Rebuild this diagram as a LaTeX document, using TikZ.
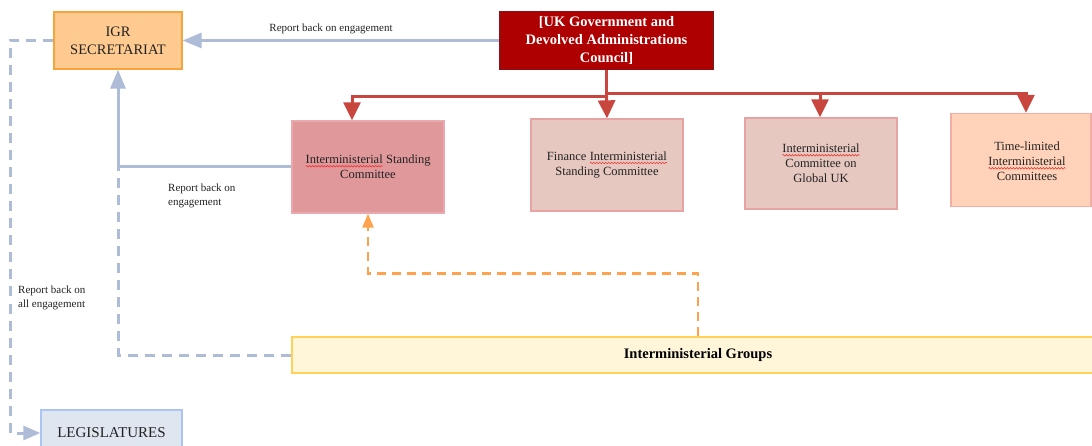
\documentclass[tikz,border=0pt]{standalone}
\usepackage{fontspec}
\setmainfont{Liberation Serif}
\usetikzlibrary{arrows.meta,decorations.pathmorphing}

\definecolor{spellred}{HTML}{E8403A}
\definecolor{linkblue}{HTML}{AEBCD8}
\definecolor{linkred}{HTML}{C8463E}
\definecolor{linkorange}{HTML}{FFA24E}
\definecolor{igrfill}{HTML}{FFCA8F}
\definecolor{igrdraw}{HTML}{F5A53C}
\definecolor{ukfill}{HTML}{AE0000}
\definecolor{ukdraw}{HTML}{8E1010}
\definecolor{iscfill}{HTML}{E0989B}
\definecolor{iscdraw}{HTML}{E9A9AE}
\definecolor{subfill}{HTML}{E6C8C0}
\definecolor{subdraw}{HTML}{E9A2A2}
\definecolor{tlfill}{HTML}{FFD2B9}
\definecolor{tldraw}{HTML}{F2AEA4}
\definecolor{igfill}{HTML}{FFF6DA}
\definecolor{igdraw}{HTML}{FFD256}
\definecolor{legfill}{HTML}{DFE6F0}
\definecolor{legdraw}{HTML}{A9C5F2}
\definecolor{txt}{HTML}{222222}

% red wavy spell-check underline under a word
\newcommand\spellw[1]{\tikz[baseline=(sw.base)]{%
  \node[inner sep=0pt, outer sep=0pt, minimum width=0pt, minimum height=0pt,
        draw=none, fill=none, align=left] (sw) {#1};
  \draw[spellred, line width=0.6pt, decorate,
        decoration={snake, amplitude=0.8pt, segment length=3pt}]
        ([yshift=-2.5pt]sw.base west) -- ([yshift=-2.5pt]sw.base east);}}

\tikzset{
  box/.style={draw, line width=1.3pt, inner sep=0pt, align=center, text=txt},
  bluelink/.style={draw=linkblue, line width=3pt},
  bluedash/.style={draw=linkblue, line width=3pt, dash pattern=on 10pt off 7pt},
  redlink/.style={draw=linkred, line width=3pt},
  orangedash/.style={draw=linkorange, line width=2.5pt, dash pattern=on 9pt off 6pt},
  bluetip/.style={-{Triangle[length=19pt,width=15pt]}},
  legtip/.style={-{Triangle[length=17pt,width=14pt]}},
  redtip/.style={-{Triangle[length=18pt,width=17pt]}},
  orangetip/.style={-{Triangle[length=14pt,width=11pt]}},
  smalllabel/.style={font=\fontsize{11}{14}\selectfont, text=txt, inner sep=0pt, align=left},
  boxtext/.style={font=\fontsize{12.5}{15}\selectfont}
}

\begin{document}
\begin{tikzpicture}[x=1pt,y=-1pt]
\useasboundingbox (0,0) rectangle (1092,446);

% boxes
\node[box, fill=igrfill, draw=igrdraw, minimum width=128pt, minimum height=57pt,
      font=\fontsize{14.5}{18}\selectfont] (igr) at (118,40.5) {IGR\\SECRETARIAT};
\node[box, fill=ukfill, draw=ukdraw, minimum width=213pt, minimum height=58pt,
      text=white, font=\bfseries\fontsize{14.5}{18}\selectfont] (uk) at (606.5,40.5)
      {[UK Government and\\Devolved Administrations\\Council]};
\node[box, fill=iscfill, draw=iscdraw, minimum width=152pt, minimum height=92pt, boxtext]
      (isc) at (368,167) {\spellw{Interministerial} Standing\\Committee};
\node[box, fill=subfill, draw=subdraw, minimum width=152pt, minimum height=92pt, boxtext]
      (fin) at (607,165) {Finance \spellw{Interministerial}\\Standing Committee};
\node[box, fill=subfill, draw=subdraw, minimum width=152pt, minimum height=91pt, boxtext]
      (glob) at (821,163.5) {\spellw{Interministerial}\\Committee on\\Global UK};
\node[box, fill=tlfill, draw=tldraw, minimum width=140pt, minimum height=93pt]
      (tl) at (1021,160) {};
\node[boxtext, text=txt, align=center, inner sep=0pt] (tltext) at (1027,161.5)
      {Time-limited\\\spellw{Interministerial}\\Committees};
\node[box, fill=igfill, draw=igdraw, minimum width=812pt, minimum height=36pt,
      font=\bfseries\fontsize{14.5}{17}\selectfont, text=black] (ig) at (698,355)
      {Interministerial Groups};
\node[box, fill=legfill, draw=legdraw, minimum width=141pt, minimum height=46pt,
      font=\fontsize{15}{17}\selectfont] (leg) at (111.5,433) {LEGISLATURES};

% reporting lines
\draw[bluelink, bluetip] (uk.west) -- (igr.east);
\draw[bluelink, bluetip] (isc.west) -| (igr.south);
\draw[bluedash] (ig.west) -| (igr.south |- isc.west);
\draw[bluedash, legtip] (igr.west) -- ++(-43,0) |- (leg.west);
\draw[orangedash, orangetip] (ig.north) -- ++(0,-63) -| (isc.south);

% council tree
\draw[redlink] (uk.south) -- ++(0,26) coordinate (hub);
\draw[redlink, redtip] (hub) -| ([xshift=-16pt]isc.north);
\draw[redlink, redtip] (hub) -- (fin.north);
\draw[redlink, redtip] ([yshift=2.5pt]hub) -| ([xshift=-1pt]glob.north);
\draw[redlink, redtip] ([yshift=2.5pt]hub) -| ([xshift=5pt]tl.north);

% labels
\node[smalllabel] (lab1) at (331,29) {Report back on engagement};
\node[smalllabel, anchor=north west] (lab2) at (168,184) {Report back on\\engagement};
\node[smalllabel, anchor=west] (lab3) at (18,298) {Report back on\\all engagement};
\end{tikzpicture}
\end{document}
